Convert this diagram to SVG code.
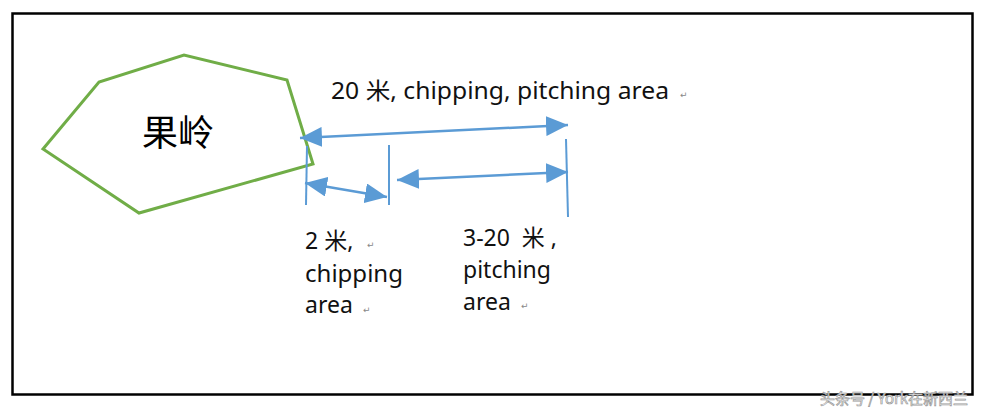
<svg xmlns="http://www.w3.org/2000/svg" width="984" height="411" viewBox="0 0 984 411">
<style>
.t{font-family:"Noto Sans","Liberation Sans","Noto Sans CJK SC",sans-serif;font-size:23px;fill:#111}
.r{font-family:"DejaVu Sans",sans-serif;font-size:9px;fill:#888}
.ln{stroke:#5B9BD5;stroke-width:2;fill:none}
.ar{stroke:#5B9BD5;stroke-width:2.5;fill:none;marker-start:url(#h);marker-end:url(#h)}
</style>
<defs>
<marker id="h" viewBox="0 0 22 20" refX="22" refY="10" markerWidth="22" markerHeight="20" markerUnits="userSpaceOnUse" orient="auto-start-reverse">
<path d="M0,0 L22,10 L0,20 Z" fill="#5B9BD5"/>
</marker>
</defs>
<rect x="0" y="0" width="984" height="411" fill="#fff"/>
<rect x="12.5" y="13.5" width="960" height="381" fill="none" stroke="#000" stroke-width="2.5"/>
<g id="green">
<polygon points="43,149 99,82 184,55 287,80 313,164 139,213" fill="none" stroke="#70AD47" stroke-width="3"/>
<text x="178" y="146" text-anchor="middle" font-family="'Noto Sans CJK SC',sans-serif" font-size="36" fill="#000">果岭</text>
</g>
<g id="connectors">
<line class="ln" x1="307" y1="146" x2="306" y2="205"/>
<line class="ln" x1="389" y1="145" x2="389" y2="205"/>
<line class="ln" x1="566" y1="139" x2="568" y2="217"/>
<line class="ar" x1="300" y1="138" x2="568" y2="125"/>
<line class="ar" x1="305" y1="183" x2="387" y2="197"/>
<line class="ar" x1="397" y1="180" x2="568" y2="172"/>
</g>
<g id="label-top">
<text class="t" x="331" y="99" textLength="338" lengthAdjust="spacingAndGlyphs">20 米, chipping, pitching area</text>
<text class="r" x="680" y="98">↵</text>
</g>
<g id="label-chipping">
<text class="t" x="305" y="249">2 米,</text><text class="r" x="367" y="248">↵</text>
<text class="t" x="305" y="282" textLength="98" lengthAdjust="spacingAndGlyphs">chipping</text>
<text class="t" x="305" y="313">area</text><text class="r" x="363" y="313">↵</text>
</g>
<g id="label-pitching">
<text class="t" x="463" y="246" xml:space="preserve">3-20  米 ,</text>
<text class="t" x="463" y="278">pitching</text>
<text class="t" x="463" y="310">area</text><text class="r" x="521" y="309">↵</text>
</g>
<text x="820" y="404" font-family="'Noto Sans CJK SC',sans-serif" font-size="15" fill="#fff" stroke="#999" stroke-width="0.7">头条号 / York在新西兰</text>
</svg>
